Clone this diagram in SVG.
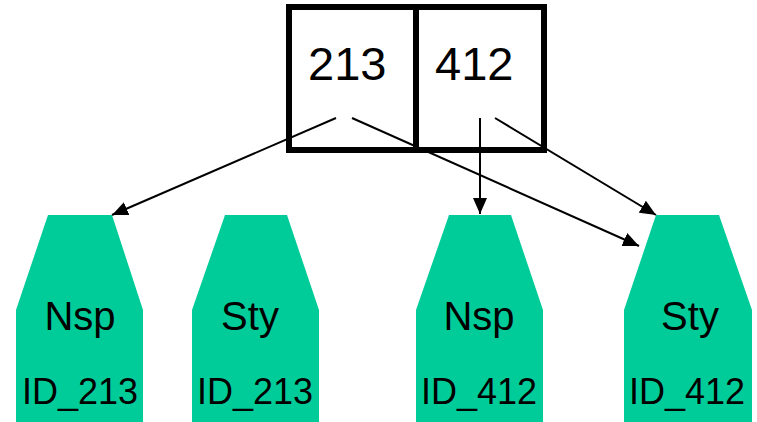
<svg xmlns="http://www.w3.org/2000/svg" width="757" height="422" viewBox="0 0 757 422">
<style>
.node{fill:#00CC99;stroke:none}
.lbl{font-family:"Liberation Sans",Arial,sans-serif;fill:#000}
.conn{stroke:#000;stroke-width:2;fill:none}
</style>
<defs>
<marker id="arr" markerUnits="userSpaceOnUse" markerWidth="16" markerHeight="14" refX="16" refY="7" orient="auto">
<path d="M0,0 L16,7 L0,14 Z" fill="#000"/>
</marker>
</defs>
<rect width="757" height="422" fill="#fff"/>
<g id="connectors">
<line class="conn" x1="336" y1="118" x2="112" y2="215" marker-end="url(#arr)"/>
<line class="conn" x1="352" y1="118" x2="639" y2="246" marker-end="url(#arr)"/>
<line class="conn" x1="480" y1="118" x2="480" y2="214" marker-end="url(#arr)"/>
<line class="conn" x1="495" y1="118" x2="656" y2="215" marker-end="url(#arr)"/>
</g>
<g id="record">
<rect x="289" y="7" width="255" height="143" fill="none" stroke="#000" stroke-width="6"/>
<line x1="416" y1="7" x2="416" y2="150" stroke="#000" stroke-width="6"/>
<text class="lbl" x="308" y="80" font-size="47">213</text>
<text class="lbl" x="435" y="80" font-size="47">412</text>
</g>
<g id="node1">
<path class="node" d="M48,215 L112,215 L143,310 L143,422 L16,422 L16,310 Z"/>
<text class="lbl" x="80" y="330" font-size="40" text-anchor="middle">Nsp</text>
<text class="lbl" x="80" y="404" font-size="36" text-anchor="middle">ID_213</text>
</g>
<g id="node2">
<path class="node" d="M225,215 L287,215 L319,310 L319,422 L192,422 L192,310 Z"/>
<text class="lbl" x="250" y="330" font-size="40" text-anchor="middle">Sty</text>
<text class="lbl" x="255" y="404" font-size="36" text-anchor="middle">ID_213</text>
</g>
<g id="node3">
<path class="node" d="M449,215 L511,215 L543,310 L543,422 L416,422 L416,310 Z"/>
<text class="lbl" x="479" y="330" font-size="40" text-anchor="middle">Nsp</text>
<text class="lbl" x="479" y="404" font-size="36" text-anchor="middle">ID_412</text>
</g>
<g id="node4">
<path class="node" d="M656,215 L719,215 L752,310 L752,422 L624,422 L624,310 Z"/>
<text class="lbl" x="690" y="330" font-size="40" text-anchor="middle">Sty</text>
<text class="lbl" x="687" y="404" font-size="36" text-anchor="middle">ID_412</text>
</g>
</svg>
